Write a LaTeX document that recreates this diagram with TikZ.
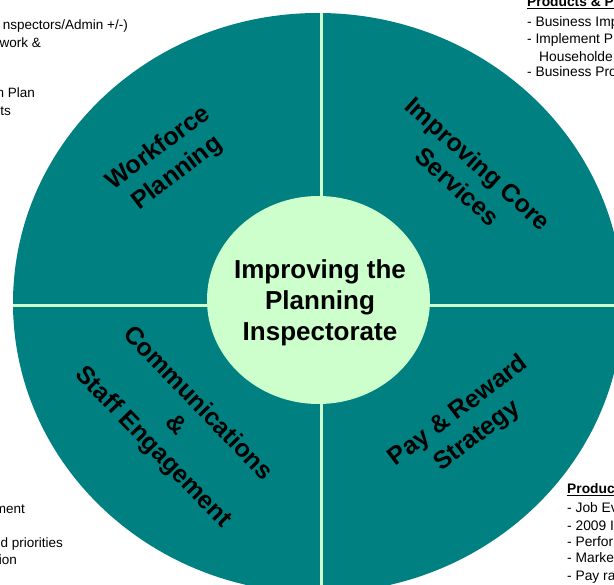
\documentclass[tikz,border=0pt]{standalone}
\usepackage{fontspec}
\setmainfont{Liberation Sans}
\definecolor{tealbg}{HTML}{008080}
\definecolor{mint}{HTML}{CCFFCC}
\begin{document}
\begin{tikzpicture}[x=1pt,y=-1pt,
  quad/.style={font=\fontsize{25}{31}\selectfont\bfseries, align=center, text=black, inner sep=0pt},
  hub/.style={font=\fontsize{26}{31}\selectfont\bfseries, align=center, text=black, inner sep=0pt},
  sideE/.style={font=\fontsize{13.5}{16}\selectfont, inner sep=0pt, anchor=base east},
  sideW/.style={font=\fontsize{13.8}{16}\selectfont, inner sep=0pt, anchor=base west},
  divider/.style={mint, line width=3pt}]
\useasboundingbox (0,0) rectangle (614,585);
\clip (0,0) rectangle (614,585);
% outer disc
\fill[tealbg] (318,303) ellipse [x radius=305pt, y radius=290pt];
\begin{scope}
  \clip (318,303) ellipse [x radius=305pt, y radius=290pt];
  \coordinate (vt) at (321,0);
  \coordinate (vb) at (321,600);
  \coordinate (hl) at (0,306);
  \coordinate (hr) at (640,306);
  \draw[divider] (vt) -- (vb);
  \draw[divider] (hl) -- (hr);
\end{scope}
% hub
\fill[mint] (318.5,300) ellipse [x radius=111.5pt, y radius=104pt];
\node[hub] (hubtext) at (320,303) {Improving the\\Planning\\Inspectorate};
% quadrant labels
\node[quad, rotate=37]  (wp)  at (168,161) {Workforce\\Planning};
\node[quad, rotate=-42] (ics) at (468,175) {Improving Core\\Services};
\node[quad, rotate=-46] (cse) at (175,426) {Communications\\\&\\Staff Engagement};
\node[quad, rotate=37]  (prs) at (468,424) {Pay \& Reward\\Strategy};
% side texts, top left
\node[sideE] (tl1) at (128,30) {nspectors/Admin +/-)};
\node[sideE] (tl2) at (41,48) {work \&};
\node[sideE] (tl3) at (35,98) {n Plan};
\node[sideE] (tl4) at (11,116) {ts};
% bottom left
\node[sideE] (bl1) at (25,514) {ment};
\node[sideE] (bl2) at (63,548) {d priorities};
\node[sideE] (bl3) at (17,565) {ion};
% top right
\node[sideW] (tr0) at (527,7) {\textbf{\underline{Products \& P}}};
\node[sideW] (tr1) at (527,27) {- Business Imp};
\node[sideW] (tr2) at (527,44) {- Implement P};
\node[sideW] (tr3) at (539,62) {Householde};
\node[sideW] (tr4) at (527,77) {- Business Pro};
% bottom right
\node[sideW] (br0) at (567,494) {\textbf{\underline{Produc}}};
\node[sideW] (br1) at (567,513) {- Job Ev};
\node[sideW] (br2) at (567,531) {- 2009 I};
\node[sideW] (br3) at (567,547) {- Perfor};
\node[sideW] (br4) at (567,563) {- Marke};
\node[sideW] (br5) at (567,580) {- Pay ra};
\end{tikzpicture}
\end{document}
